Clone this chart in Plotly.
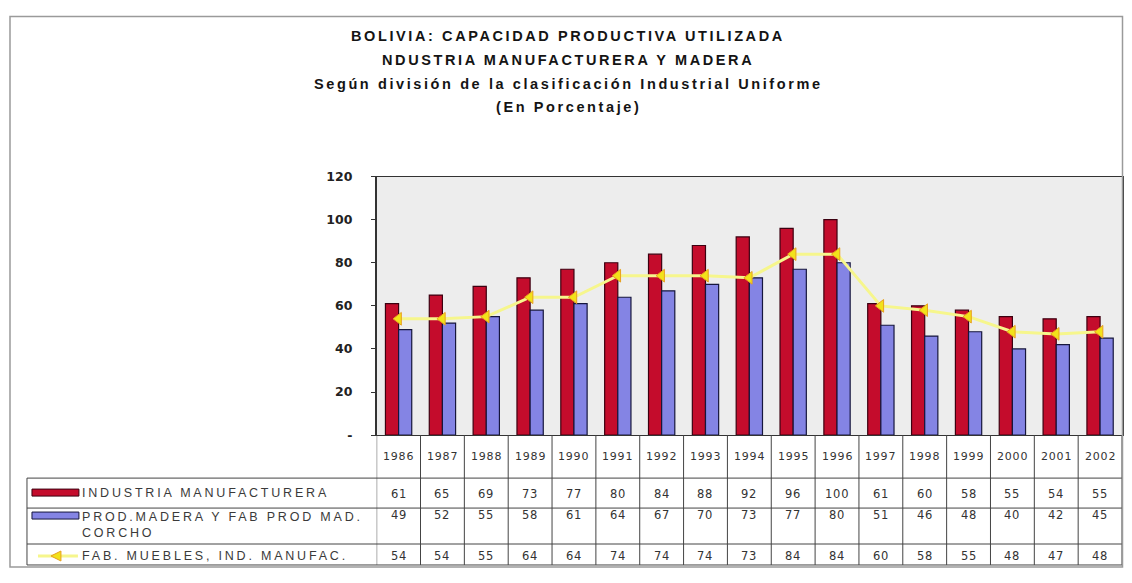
import plotly.graph_objects as go

years = ["1986", "1987", "1988", "1989", "1990", "1991", "1992", "1993", "1994",
         "1995", "1996", "1997", "1998", "1999", "2000", "2001", "2002"]
industria = [61, 65, 69, 73, 77, 80, 84, 88, 92, 96, 100, 61, 60, 58, 55, 54, 55]
madera = [49, 52, 55, 58, 61, 64, 67, 70, 73, 77, 80, 51, 46, 48, 40, 42, 45]
muebles = [54, 54, 55, 64, 64, 74, 74, 74, 73, 84, 84, 60, 58, 55, 48, 47, 48]

series_names = ["INDUSTRIA MANUFACTURERA",
                "PROD.MADERA Y FAB PROD MAD.<br>CORCHO",
                "FAB. MUEBLES, IND. MANUFAC."]
title_lines = ["BOLIVIA: CAPACIDAD PRODUCTIVA UTILIZADA",
               "NDUSTRIA MANUFACTURERA Y MADERA",
               "Según división de la clasificación Industrial Uniforme",
               "(En Porcentaje)"]
y_ticks = [0, 20, 40, 60, 80, 100, 120]
y_ticktext = ["-", "20", "40", "60", "80", "100", "120"]

# figure sized to fit inside the page (body margin); positions below are given in
# window pixels and mapped to paper fractions
OFF = 8
W, H = 1132 - 2 * OFF, 583 - 2 * OFF
Y0, YS = 15.2, 0.975
def px(xp):
    return (xp - OFF) / W
def py(yp):
    return 1 - ((yp - Y0) / YS) / H

RED = "#c40c2c"
BLUE = "#8484e4"
YEL = "#f2e21a"
LINE_YEL = "#f6f68c"

def spaced(t, sp):
    return '<span style="letter-spacing:%spx">%s</span>' % (sp, t)

fig = go.Figure()
fig.add_trace(go.Bar(x=years, y=industria, name=series_names[0],
                     marker=dict(color=RED, line=dict(color="#3c0010", width=1.2)),
                     showlegend=False))
fig.add_trace(go.Bar(x=years, y=madera, name=series_names[1],
                     marker=dict(color=BLUE, line=dict(color="#16163c", width=1.2)),
                     showlegend=False))
fig.add_trace(go.Scatter(x=years, y=muebles, name=series_names[2], mode="lines+markers",
                         line=dict(color=LINE_YEL, width=3),
                         marker=dict(symbol="triangle-left", size=11, color=YEL,
                                     line=dict(color="#e8a020", width=1)),
                         showlegend=False))

afont = "Liberation Sans, Arial, sans-serif"
dfont = "DejaVu Sans, Liberation Sans, sans-serif"
ann = []
title_y = [35, 59, 83, 106]
for t, yy in zip(title_lines, title_y):
    ann.append(dict(text=spaced(t, 2.6), x=px(569), y=py(yy), xref="paper", yref="paper",
                    showarrow=False, xanchor="center", yanchor="middle",
                    font=dict(family=afont, size=14.5, color="#141414", weight="bold")))

row_y = {"year": 456, 0: 494, 1: 515, 2: 556}
data_rows = [industria, madera, muebles]
for i, yr in enumerate(years):
    ann.append(dict(text=spaced(yr, 0.8), x=i, y=py(row_y["year"]), xref="x", yref="paper",
                    showarrow=False, yanchor="middle",
                    font=dict(family=dfont, size=11, color="#333")))
    for r, vals in enumerate(data_rows):
        ann.append(dict(text=spaced(str(vals[i]), 0.8), x=i, y=py(row_y[r]), xref="x",
                        yref="paper", showarrow=False, yanchor="middle",
                        font=dict(family=dfont, size=11.5, color="#333")))

label_y = [493, 525, 556]
for r, name in enumerate(series_names):
    txt = "<br>".join(spaced(part, 2.8) for part in name.split("<br>"))
    ann.append(dict(text=txt, x=px(80), y=py(label_y[r]), xref="paper", yref="paper",
                    showarrow=False, xanchor="left", yanchor="middle", align="left",
                    font=dict(family=afont, size=12.5, color="#3a3a3a")))

shapes = []
line_col = "#444"
for yy in [478, 508, 544, 565]:
    shapes.append(dict(type="line", xref="paper", yref="paper", x0=px(27), x1=px(1123),
                       y0=py(yy), y1=py(yy), line=dict(color=line_col, width=1)))
shapes.append(dict(type="line", xref="paper", yref="paper", x0=px(27), x1=px(27),
                   y0=py(478), y1=py(565), line=dict(color=line_col, width=1)))
for i in range(len(years) + 1):
    shapes.append(dict(type="line", xref="x", yref="paper", x0=i - 0.5, x1=i - 0.5,
                       y0=py(435), y1=py(565), line=dict(color=line_col, width=1)))
shapes.append(dict(type="rect", xref="paper", yref="paper", x0=px(32), x1=px(79),
                   y0=py(496), y1=py(489), fillcolor=RED, line=dict(color="#3c0010", width=1)))
shapes.append(dict(type="rect", xref="paper", yref="paper", x0=px(32), x1=px(79),
                   y0=py(519), y1=py(512), fillcolor=BLUE, line=dict(color="#16163c", width=1)))
shapes.append(dict(type="line", xref="paper", yref="paper", x0=px(38), x1=px(78),
                   y0=py(556), y1=py(556), line=dict(color=LINE_YEL, width=3)))
# legend marker for the line series (left-pointing triangle)
tri = "M {a},{b} L {c},{d} L {c},{e} Z".format(a=px(51), b=py(556), c=px(61),
                                                d=py(551), e=py(561))
shapes.append(dict(type="path", xref="paper", yref="paper", path=tri, fillcolor=YEL,
                   line=dict(color="#e8a020", width=1)))
shapes.append(dict(type="rect", xref="paper", yref="paper", x0=px(10), x1=px(1123.5),
                   y0=max(py(575), 0.002), y1=min(py(15.5), 0.999),
                   line=dict(color="#9a9a9a", width=1.5)))

fig.update_layout(
    width=W, height=H, autosize=False,
    margin=dict(l=0, r=0, t=0, b=0),
    paper_bgcolor="white", plot_bgcolor="#ededed",
    barmode="group", bargap=0.4, bargroupgap=0.0,
    annotations=ann, shapes=shapes,
    xaxis=dict(type="category", domain=[px(377), px(1123)], range=[-0.5, len(years) - 0.5],
               showticklabels=False, showgrid=False, zeroline=False, showline=True,
               linecolor="#333", linewidth=1, mirror=True, ticks=""),
    yaxis=dict(domain=[py(435), py(176)], range=[0, 120], tickvals=y_ticks,
               ticktext=y_ticktext, showgrid=False, zeroline=False, showline=True,
               linecolor="#333", linewidth=1.5, mirror=True, ticks="outside", ticklen=4,
               tickcolor="#333", ticklabelstandoff=16,
               tickfont=dict(family=dfont, size=12.5, color="#222", weight="bold")),
    font=dict(family=afont),
)
fig.write_html("out.html")
